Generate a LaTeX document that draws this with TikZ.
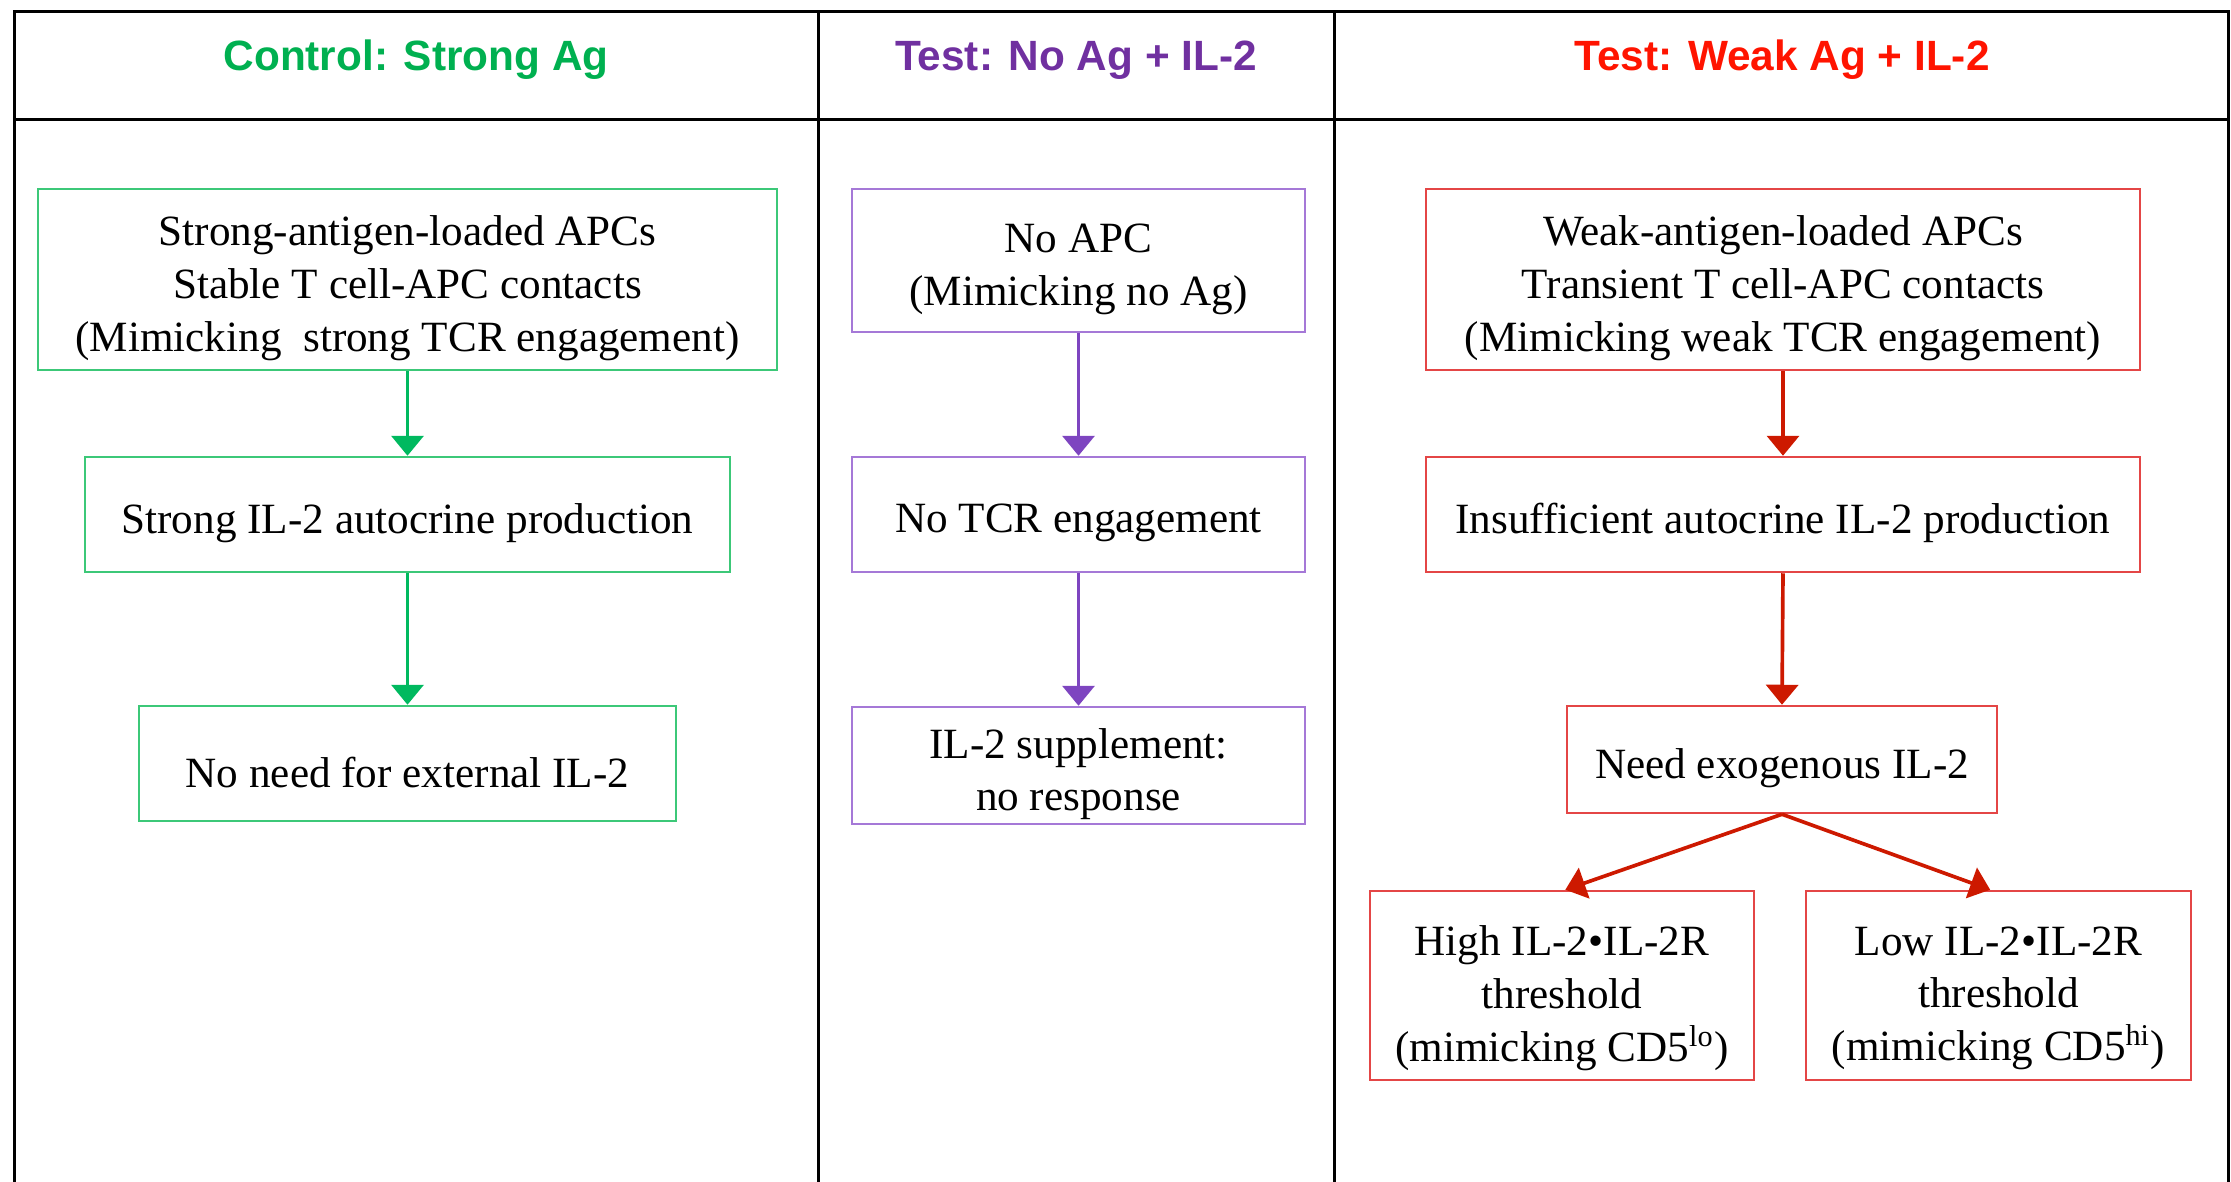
\documentclass[tikz,border=0pt]{standalone}
\usepackage{fontspec}
\setmainfont{Liberation Serif}
\setsansfont{Liberation Sans}
\usetikzlibrary{arrows.meta}
\definecolor{hgreen}{RGB}{0,176,80}
\definecolor{bgreen}{RGB}{60,200,120}
\definecolor{agreen}{RGB}{0,185,95}
\definecolor{hpurple}{RGB}{112,48,160}
\definecolor{bpurple}{RGB}{165,120,215}
\definecolor{apurple}{RGB}{126,69,192}
\definecolor{hred}{RGB}{255,20,0}
\definecolor{bred}{RGB}{228,70,70}
\definecolor{ared}{RGB}{205,25,0}
\begin{document}
\begin{tikzpicture}[x=0.3pt,y=-0.3pt,
  gridline/.style={line width=0.9pt,black},
  hdr/.style={font=\sffamily\bfseries\fontsize{12.7}{15}\selectfont,anchor=base},
  bx/.style={draw,line width=0.75pt,inner sep=0pt},
  txt/.style={align=center,inner sep=0pt,yshift=-2.6pt,font=\fontsize{12.95}{15.8}\selectfont},
  ar/.style={line width=1.1pt,-{Triangle[width=9.6pt,length=6pt]}}]
\useasboundingbox (0,0) rectangle (2231,1182);
% table
\draw[gridline] (14,1182) -- (14,11) -- (2228,11) -- (2228,1182);
\draw[gridline] (14,119) -- (2228,119);
\draw[gridline] (818,11) -- (818,1182);
\draw[gridline] (1334,11) -- (1334,1182);
% headers
\node[hdr,text=hgreen] (h1) at (416,70) {Control: Strong Ag};
\node[hdr,text=hpurple] (h2) at (1076,70) {Test: No Ag + IL-2};
\node[hdr,text=hred] (h3) at (1782,70) {Test: Weak Ag + IL-2};
% column 1
\node[bx,draw=bgreen,minimum width=221.7pt,minimum height=54.3pt,
  label={[txt]center:{Strong-antigen-loaded APCs\\Stable T cell-APC contacts\\(Mimicking\ \ strong TCR engagement)}}]
  (s1) at (407.5,279.5) {};
\node[bx,draw=bgreen,minimum width=193.5pt,minimum height=34.5pt,
  label={[txt]center:{Strong IL-2 autocrine production}}] (s2) at (407.5,514.5) {};
\node[bx,draw=bgreen,minimum width=161.1pt,minimum height=34.5pt,
  label={[txt]center:{No need for external IL-2}}] (s3) at (407.5,763.5) {};
\draw[ar,agreen] (s1.south) -- (s2.north);
\draw[ar,agreen] (s2.south) -- (s3.north);
% column 2
\node[bx,draw=bpurple,minimum width=135.9pt,minimum height=42.9pt,
  label={[txt]center:{No APC\\(Mimicking no Ag)}}] (n1) at (1078.5,260.5) {};
\node[bx,draw=bpurple,minimum width=135.9pt,minimum height=34.5pt,
  label={[txt]center:{No TCR engagement}}] (n2) at (1078.5,514.5) {};
\node[bx,draw=bpurple,minimum width=135.9pt,minimum height=35.1pt,
  label={[txt]center:{IL-2 supplement:\\no response}}] (n3) at (1078.5,765.5) {};
\draw[ar,apurple] (n1.south) -- (n2.north);
\draw[ar,apurple] (n2.south) -- (n3.north);
% column 3
\node[bx,draw=bred,minimum width=214.2pt,minimum height=54.3pt,
  label={[txt]center:{Weak-antigen-loaded APCs\\Transient T cell-APC contacts\\(Mimicking weak TCR engagement)}}]
  (w1) at (1783,279.5) {};
\node[bx,draw=bred,minimum width=214.2pt,minimum height=34.5pt,
  label={[txt]center:{Insufficient autocrine IL-2 production}}] (w2) at (1783,514.5) {};
\node[bx,draw=bred,minimum width=129pt,minimum height=32.1pt,
  label={[txt]center:{Need exogenous IL-2}}] (w3) at (1782,759.5) {};
\node[bx,draw=bred,minimum width=115.2pt,minimum height=56.7pt,
  label={[txt,yshift=-1.2pt]center:{High IL-2•IL-2R\\threshold\\(mimicking CD5\textsuperscript{lo})}}]
  (w4) at (1562,985.5) {};
\node[bx,draw=bred,minimum width=115.5pt,minimum height=56.7pt,
  label={[txt,yshift=-1.2pt]center:{Low IL-2•IL-2R\\threshold\\(mimicking CD5\textsuperscript{hi})}}]
  (w5) at (1998.5,985.5) {};
\draw[ar,ared] (w1.south) -- (w2.north);
\draw[ar,ared] (w2.south) -- (w3.north);
\draw[ar,ared] (w3.south) -- ([xshift=1pt]w4.north);
\draw[ar,ared] (w3.south) -- ([xshift=-2.5pt]w5.north);
\end{tikzpicture}
\end{document}
